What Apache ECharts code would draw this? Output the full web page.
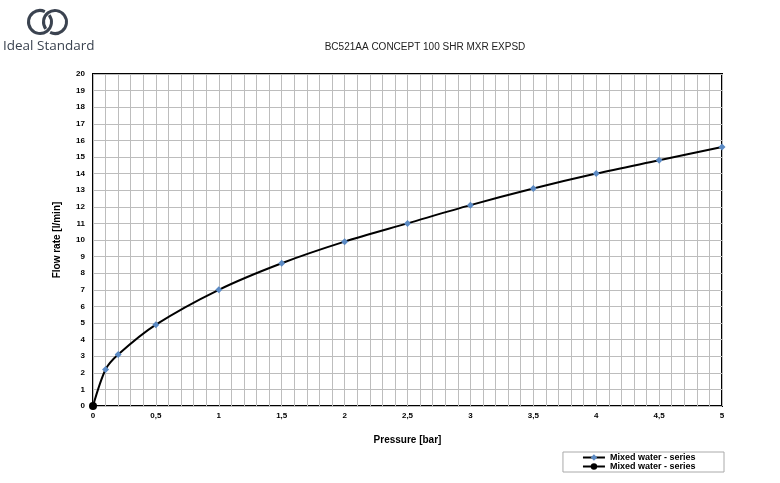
<!DOCTYPE html>
<html><head><meta charset="utf-8">
<script src="https://cdn.jsdelivr.net/npm/echarts@6/dist/echarts.min.js"></script>
<style>html,body{margin:0;padding:0;background:#fff}#c{width:780px;height:483px}</style>
</head><body><div id="c"></div>
<script>
const pressure = [0, 0.1, 0.2, 0.5, 1, 1.5, 2, 2.5, 3, 3.5, 4, 4.5, 5];
const flowMixed = [0, 2.2, 3.1, 4.9, 7.0, 8.6, 9.9, 11.0, 12.1, 13.1, 14.0, 14.8, 15.6];
const originX = [0];
const originY = [0];
const seriesNames = ['Mixed water - series', 'Mixed water - series '];
const titleText = 'BC521AA CONCEPT 100 SHR MXR EXPSD';
const xTitle = 'Pressure [bar]';
const yTitle = 'Flow rate [l/min]';

const chart = echarts.init(document.getElementById('c'));
const fmt = v => String(Math.round(v * 10) / 10).replace('.', ',');
const d2r = d => d * Math.PI / 180;
chart.setOption({
  animation: false,
  title: {text: titleText, left: 420, top: 37, textAlign: 'center',
    textStyle: {fontFamily: 'Liberation Sans', fontSize: 10, fontWeight: 'normal', color: '#222'}},
  graphic: [
    {type: 'arc', shape: {cx: 40, cy: 22, r: 11.5, startAngle: d2r(-37), endAngle: d2r(295), clockwise: true},
     style: {fill: 'none', stroke: '#3b4350', lineWidth: 3}},
    {type: 'arc', shape: {cx: 55, cy: 22, r: 11.5, startAngle: d2r(143), endAngle: d2r(475), clockwise: true},
     style: {fill: 'none', stroke: '#3b4350', lineWidth: 3}},
    {type: 'text', left: 3, top: 39, style: {text: 'Ideal Standard', fontFamily: 'Open Sans', fontSize: 13.5, fill: '#3b4350'}}
  ],
  legend: {
    right: 56, top: 452, orient: 'vertical', itemGap: 0, itemWidth: 22, itemHeight: 8,
    padding: [1, 26, 1, 19], borderColor: '#aaa', borderWidth: 1,
    textStyle: {fontFamily: 'Liberation Sans', fontSize: 9, fontWeight: 'bold', color: '#000'},
    data: [seriesNames[0], seriesNames[1]]
  },
  grid: {left: 93, right: 58, top: 74, bottom: 77, show: true, borderColor: '#000', borderWidth: 2},
  xAxis: {
    type: 'value', min: 0, max: 5, interval: 0.5,
    name: xTitle, nameLocation: 'middle', nameGap: 29,
    nameTextStyle: {fontFamily: 'Liberation Sans', fontSize: 10, fontWeight: 'bold', color: '#000'},
    axisLine: {show: false}, axisTick: {show: false},
    axisLabel: {formatter: fmt, fontFamily: 'Liberation Sans', fontSize: 8, fontWeight: 'bold', color: '#000', margin: 6},
    splitLine: {show: true, lineStyle: {color: '#bdbdbd', width: 1}},
    minorTick: {show: false, splitNumber: 5},
    minorSplitLine: {show: true, lineStyle: {color: '#bdbdbd', width: 1}}
  },
  yAxis: {
    type: 'value', min: 0, max: 20, interval: 1,
    name: yTitle, nameLocation: 'middle', nameGap: 31,
    nameTextStyle: {fontFamily: 'Liberation Sans', fontSize: 10, fontWeight: 'bold', color: '#000'},
    axisLine: {show: false}, axisTick: {show: false},
    axisLabel: {fontFamily: 'Liberation Sans', fontSize: 8, fontWeight: 'bold', color: '#000', margin: 8},
    splitLine: {show: true, lineStyle: {color: '#bdbdbd', width: 1}}
  },
  series: [
    {name: seriesNames[0], type: 'line', smooth: 0.3,
     data: pressure.map((p, i) => [p, flowMixed[i]]),
     symbol: 'diamond', symbolSize: 7, showAllSymbol: true,
     itemStyle: {color: '#5b8ac4'}, lineStyle: {color: '#000', width: 2}, z: 3},
    {name: seriesNames[1], type: 'line',
     data: originX.map((p, i) => [p, originY[i]]),
     symbol: 'circle', symbolSize: 8,
     itemStyle: {color: '#000'}, lineStyle: {color: '#000', width: 2}, z: 4}
  ]
});
</script></body></html>
